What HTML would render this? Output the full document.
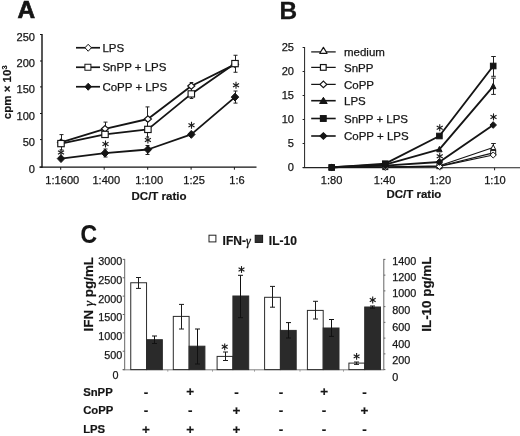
<!DOCTYPE html>
<html><head><meta charset="utf-8"><title>Figure</title>
<style>html,body{margin:0;padding:0;background:#fff;}svg{display:block;will-change:transform;}svg text{font-family:"Liberation Sans",sans-serif;}</style></head>
<body>
<svg width="520" height="436" viewBox="0 0 520 436">
<rect width="520" height="436" fill="#fff"/>
<text x="17.5" y="18.2" font-size="24.4" font-weight="bold" text-anchor="start" fill="#151515"  stroke="#151515" stroke-width="0.7">A</text>
<line x1="42.00" y1="34.00" x2="42.00" y2="167.70" stroke="#111" stroke-width="1.4" />
<line x1="39.40" y1="167.10" x2="256.50" y2="167.10" stroke="#111" stroke-width="1.3" />
<line x1="60.70" y1="167.10" x2="60.70" y2="169.70" stroke="#151515" stroke-width="1" />
<line x1="104.20" y1="167.10" x2="104.20" y2="169.70" stroke="#151515" stroke-width="1" />
<line x1="147.70" y1="167.10" x2="147.70" y2="169.70" stroke="#151515" stroke-width="1" />
<line x1="191.10" y1="167.10" x2="191.10" y2="169.70" stroke="#151515" stroke-width="1" />
<line x1="234.40" y1="167.10" x2="234.40" y2="169.70" stroke="#151515" stroke-width="1" />
<line x1="40.00" y1="34.50" x2="42.00" y2="34.50" stroke="#151515" stroke-width="1" />
<text x="35.0" y="40.5" font-size="11.1" text-anchor="end" fill="#151515"  stroke="#151515" stroke-width="0.25">250</text>
<line x1="40.00" y1="61.00" x2="42.00" y2="61.00" stroke="#151515" stroke-width="1" />
<text x="35.0" y="67.0" font-size="11.1" text-anchor="end" fill="#151515"  stroke="#151515" stroke-width="0.25">200</text>
<line x1="40.00" y1="86.90" x2="42.00" y2="86.90" stroke="#151515" stroke-width="1" />
<text x="35.0" y="92.9" font-size="11.1" text-anchor="end" fill="#151515"  stroke="#151515" stroke-width="0.25">150</text>
<line x1="40.00" y1="113.50" x2="42.00" y2="113.50" stroke="#151515" stroke-width="1" />
<text x="35.0" y="119.5" font-size="11.1" text-anchor="end" fill="#151515"  stroke="#151515" stroke-width="0.25">100</text>
<line x1="40.00" y1="139.60" x2="42.00" y2="139.60" stroke="#151515" stroke-width="1" />
<text x="35.0" y="145.6" font-size="11.1" text-anchor="end" fill="#151515"  stroke="#151515" stroke-width="0.25">50</text>
<line x1="40.00" y1="167.10" x2="42.00" y2="167.10" stroke="#151515" stroke-width="1" />
<text x="35.0" y="173.1" font-size="11.1" text-anchor="end" fill="#151515"  stroke="#151515" stroke-width="0.25">0</text>
<text x="62.3" y="184.0" font-size="11.1" text-anchor="middle" fill="#151515"  stroke="#151515" stroke-width="0.25">1:1600</text>
<text x="106.3" y="184.0" font-size="11.1" text-anchor="middle" fill="#151515"  stroke="#151515" stroke-width="0.25">1:400</text>
<text x="149.2" y="184.0" font-size="11.1" text-anchor="middle" fill="#151515"  stroke="#151515" stroke-width="0.25">1:100</text>
<text x="194.1" y="184.0" font-size="11.1" text-anchor="middle" fill="#151515"  stroke="#151515" stroke-width="0.25">1:25</text>
<text x="237.0" y="184.0" font-size="11.1" text-anchor="middle" fill="#151515"  stroke="#151515" stroke-width="0.25">1:6</text>
<text x="159" y="199.8" font-size="11.5" font-weight="bold" text-anchor="middle" fill="#151515"  stroke="#151515" stroke-width="0.2">DC/T ratio</text>
<text x="11.0" y="92.3" font-size="11.5" font-weight="bold" text-anchor="middle" fill="#151515" transform="rotate(-90 11.0 92.3)" stroke="#151515" stroke-width="0.2">cpm × 10<tspan font-size="7.5" dy="-4">3</tspan></text>
<line x1="76.00" y1="47.75" x2="100.00" y2="47.75" stroke="#151515" stroke-width="1.7" />
<polygon points="85.00,47.75 88.20,44.25 91.40,47.75 88.20,51.25" fill="#fff" stroke="#151515" stroke-width="1.0"/>
<text x="102.4" y="51.9" font-size="11.5" text-anchor="start" fill="#151515"  stroke="#151515" stroke-width="0.25">LPS</text>
<line x1="76.00" y1="67.25" x2="100.00" y2="67.25" stroke="#151515" stroke-width="1.7" />
<rect x="84.90" y="64.25" width="6.00" height="6.00" fill="#fff" stroke="#151515" stroke-width="1.0"/>
<text x="102.4" y="71.4" font-size="11.5" text-anchor="start" fill="#151515"  stroke="#151515" stroke-width="0.25">SnPP + LPS</text>
<line x1="76.00" y1="86.75" x2="100.00" y2="86.75" stroke="#151515" stroke-width="1.7" />
<polygon points="85.00,86.75 88.20,83.25 91.40,86.75 88.20,90.25" fill="#151515" stroke="#151515" stroke-width="1.0"/>
<text x="102.4" y="90.9" font-size="11.5" text-anchor="start" fill="#151515"  stroke="#151515" stroke-width="0.25">CoPP + LPS</text>
<line x1="61.50" y1="134.60" x2="61.50" y2="150.00" stroke="#222" stroke-width="1" />
<line x1="59.50" y1="134.60" x2="63.50" y2="134.60" stroke="#222" stroke-width="1" />
<line x1="59.50" y1="150.00" x2="63.50" y2="150.00" stroke="#222" stroke-width="1" />
<line x1="105.50" y1="122.10" x2="105.50" y2="129.00" stroke="#222" stroke-width="1" />
<line x1="103.50" y1="122.10" x2="107.50" y2="122.10" stroke="#222" stroke-width="1" />
<line x1="103.50" y1="129.00" x2="107.50" y2="129.00" stroke="#222" stroke-width="1" />
<line x1="147.50" y1="106.90" x2="147.50" y2="119.00" stroke="#222" stroke-width="1" />
<line x1="145.50" y1="106.90" x2="149.50" y2="106.90" stroke="#222" stroke-width="1" />
<line x1="145.50" y1="119.00" x2="149.50" y2="119.00" stroke="#222" stroke-width="1" />
<line x1="147.50" y1="121.50" x2="147.50" y2="137.00" stroke="#222" stroke-width="1" />
<line x1="145.90" y1="121.50" x2="149.10" y2="121.50" stroke="#222" stroke-width="1" />
<line x1="145.90" y1="137.00" x2="149.10" y2="137.00" stroke="#222" stroke-width="1" />
<line x1="191.50" y1="82.50" x2="191.50" y2="98.50" stroke="#222" stroke-width="1" />
<line x1="189.70" y1="82.50" x2="193.30" y2="82.50" stroke="#222" stroke-width="1" />
<line x1="189.70" y1="98.50" x2="193.30" y2="98.50" stroke="#222" stroke-width="1" />
<line x1="235.50" y1="55.25" x2="235.50" y2="72.25" stroke="#222" stroke-width="1" />
<line x1="233.50" y1="55.25" x2="237.50" y2="55.25" stroke="#222" stroke-width="1" />
<line x1="233.50" y1="72.25" x2="237.50" y2="72.25" stroke="#222" stroke-width="1" />
<line x1="105.50" y1="149.00" x2="105.50" y2="157.00" stroke="#222" stroke-width="1" />
<line x1="103.50" y1="149.00" x2="107.50" y2="149.00" stroke="#222" stroke-width="1" />
<line x1="103.50" y1="157.00" x2="107.50" y2="157.00" stroke="#222" stroke-width="1" />
<line x1="147.50" y1="145.50" x2="147.50" y2="154.50" stroke="#222" stroke-width="1" />
<line x1="145.50" y1="145.50" x2="149.50" y2="145.50" stroke="#222" stroke-width="1" />
<line x1="145.50" y1="154.50" x2="149.50" y2="154.50" stroke="#222" stroke-width="1" />
<line x1="235.50" y1="91.00" x2="235.50" y2="103.10" stroke="#222" stroke-width="1" />
<line x1="233.50" y1="91.00" x2="237.50" y2="91.00" stroke="#222" stroke-width="1" />
<line x1="233.50" y1="103.10" x2="237.50" y2="103.10" stroke="#222" stroke-width="1" />
<polyline points="61.0,142.3 105.0,128.8 147.9,119.0 191.3,86.0 235.0,64.3" fill="none" stroke="#151515" stroke-width="1.85" stroke-linejoin="round"/>
<polyline points="61.0,143.6 105.0,134.4 147.9,129.4 191.3,93.9 235.0,63.6" fill="none" stroke="#151515" stroke-width="1.85" stroke-linejoin="round"/>
<polyline points="61.0,158.6 105.0,153.1 147.9,149.5 191.3,134.4 235.0,97.1" fill="none" stroke="#151515" stroke-width="1.85" stroke-linejoin="round"/>
<polygon points="57.41,142.30 61.00,139.02 64.58,142.30 61.00,145.59" fill="#fff" stroke="#151515" stroke-width="1.1"/>
<polygon points="101.42,128.75 105.00,125.47 108.58,128.75 105.00,132.03" fill="#fff" stroke="#151515" stroke-width="1.1"/>
<polygon points="144.31,119.00 147.90,115.72 151.49,119.00 147.90,122.28" fill="#fff" stroke="#151515" stroke-width="1.1"/>
<polygon points="187.72,86.00 191.30,82.72 194.89,86.00 191.30,89.28" fill="#fff" stroke="#151515" stroke-width="1.1"/>
<polygon points="231.41,64.30 235.00,61.02 238.59,64.30 235.00,67.58" fill="#fff" stroke="#151515" stroke-width="1.1"/>
<rect x="57.77" y="140.47" width="6.45" height="6.25" fill="#fff" stroke="#151515" stroke-width="1.15"/>
<rect x="101.78" y="131.28" width="6.45" height="6.25" fill="#fff" stroke="#151515" stroke-width="1.15"/>
<rect x="144.68" y="126.28" width="6.45" height="6.25" fill="#fff" stroke="#151515" stroke-width="1.15"/>
<rect x="188.08" y="90.78" width="6.45" height="6.25" fill="#fff" stroke="#151515" stroke-width="1.15"/>
<rect x="231.78" y="60.48" width="6.45" height="6.25" fill="#fff" stroke="#151515" stroke-width="1.15"/>
<polygon points="57.25,158.60 61.00,154.65 64.75,158.60 61.00,162.55" fill="#151515" stroke="#151515" stroke-width="1.0"/>
<polygon points="101.25,153.10 105.00,149.15 108.75,153.10 105.00,157.05" fill="#151515" stroke="#151515" stroke-width="1.0"/>
<polygon points="144.15,149.50 147.90,145.55 151.65,149.50 147.90,153.45" fill="#151515" stroke="#151515" stroke-width="1.0"/>
<polygon points="187.55,134.40 191.30,130.45 195.05,134.40 191.30,138.35" fill="#151515" stroke="#151515" stroke-width="1.0"/>
<polygon points="231.25,97.10 235.00,93.15 238.75,97.10 235.00,101.05" fill="#151515" stroke="#151515" stroke-width="1.0"/>
<line x1="61.00" y1="149.00" x2="61.00" y2="156.00" stroke="#1a1a1a" stroke-width="1.1" />
<line x1="57.97" y1="150.75" x2="64.03" y2="154.25" stroke="#1a1a1a" stroke-width="1.1" />
<line x1="64.03" y1="150.75" x2="57.97" y2="154.25" stroke="#1a1a1a" stroke-width="1.1" />
<line x1="105.50" y1="140.50" x2="105.50" y2="147.50" stroke="#1a1a1a" stroke-width="1.1" />
<line x1="102.47" y1="142.25" x2="108.53" y2="145.75" stroke="#1a1a1a" stroke-width="1.1" />
<line x1="108.53" y1="142.25" x2="102.47" y2="145.75" stroke="#1a1a1a" stroke-width="1.1" />
<line x1="147.90" y1="136.50" x2="147.90" y2="143.50" stroke="#1a1a1a" stroke-width="1.1" />
<line x1="144.87" y1="138.25" x2="150.93" y2="141.75" stroke="#1a1a1a" stroke-width="1.1" />
<line x1="150.93" y1="138.25" x2="144.87" y2="141.75" stroke="#1a1a1a" stroke-width="1.1" />
<line x1="191.50" y1="121.75" x2="191.50" y2="128.75" stroke="#1a1a1a" stroke-width="1.1" />
<line x1="188.47" y1="123.50" x2="194.53" y2="127.00" stroke="#1a1a1a" stroke-width="1.1" />
<line x1="194.53" y1="123.50" x2="188.47" y2="127.00" stroke="#1a1a1a" stroke-width="1.1" />
<line x1="236.00" y1="81.75" x2="236.00" y2="88.75" stroke="#1a1a1a" stroke-width="1.1" />
<line x1="232.97" y1="83.50" x2="239.03" y2="87.00" stroke="#1a1a1a" stroke-width="1.1" />
<line x1="239.03" y1="83.50" x2="232.97" y2="87.00" stroke="#1a1a1a" stroke-width="1.1" />
<text x="279.6" y="19" font-size="24.4" font-weight="bold" text-anchor="start" fill="#151515"  stroke="#151515" stroke-width="0.3">B</text>
<line x1="304.60" y1="47.00" x2="304.60" y2="168.00" stroke="#222" stroke-width="1" />
<line x1="302.80" y1="167.60" x2="520.00" y2="167.70" stroke="#222" stroke-width="1.1" />
<line x1="332.00" y1="167.70" x2="332.00" y2="170.30" stroke="#222" stroke-width="1" />
<line x1="385.50" y1="167.70" x2="385.50" y2="170.30" stroke="#222" stroke-width="1" />
<line x1="440.00" y1="167.70" x2="440.00" y2="170.30" stroke="#222" stroke-width="1" />
<line x1="494.60" y1="167.70" x2="494.60" y2="170.30" stroke="#222" stroke-width="1" />
<text x="294.0" y="171.2" font-size="11.1" text-anchor="end" fill="#151515"  stroke="#151515" stroke-width="0.25">0</text>
<line x1="302.60" y1="167.50" x2="304.60" y2="167.50" stroke="#222" stroke-width="1" />
<text x="294.0" y="147.2" font-size="11.1" text-anchor="end" fill="#151515"  stroke="#151515" stroke-width="0.25">5</text>
<line x1="302.60" y1="143.50" x2="304.60" y2="143.50" stroke="#222" stroke-width="1" />
<text x="294.0" y="123.2" font-size="11.1" text-anchor="end" fill="#151515"  stroke="#151515" stroke-width="0.25">10</text>
<line x1="302.60" y1="119.50" x2="304.60" y2="119.50" stroke="#222" stroke-width="1" />
<text x="294.0" y="99.2" font-size="11.1" text-anchor="end" fill="#151515"  stroke="#151515" stroke-width="0.25">15</text>
<line x1="302.60" y1="95.50" x2="304.60" y2="95.50" stroke="#222" stroke-width="1" />
<text x="294.0" y="75.2" font-size="11.1" text-anchor="end" fill="#151515"  stroke="#151515" stroke-width="0.25">20</text>
<line x1="302.60" y1="71.50" x2="304.60" y2="71.50" stroke="#222" stroke-width="1" />
<text x="294.0" y="51.2" font-size="11.1" text-anchor="end" fill="#151515"  stroke="#151515" stroke-width="0.25">25</text>
<line x1="302.60" y1="47.50" x2="304.60" y2="47.50" stroke="#222" stroke-width="1" />
<text x="331.6" y="184.1" font-size="11.1" text-anchor="middle" fill="#151515"  stroke="#151515" stroke-width="0.25">1:80</text>
<text x="384.6" y="184.1" font-size="11.1" text-anchor="middle" fill="#151515"  stroke="#151515" stroke-width="0.25">1:40</text>
<text x="440.4" y="184.1" font-size="11.1" text-anchor="middle" fill="#151515"  stroke="#151515" stroke-width="0.25">1:20</text>
<text x="495.0" y="184.1" font-size="11.1" text-anchor="middle" fill="#151515"  stroke="#151515" stroke-width="0.25">1:10</text>
<text x="413.9" y="197.9" font-size="11.5" font-weight="bold" text-anchor="middle" fill="#151515"  stroke="#151515" stroke-width="0.2">DC/T ratio</text>
<line x1="311.20" y1="51.90" x2="335.70" y2="51.90" stroke="#151515" stroke-width="1.25" />
<polygon points="319.74,53.28 323.40,47.32 327.06,53.28" fill="#fff" stroke="#151515" stroke-width="1.2" stroke-linejoin="round"/>
<text x="344" y="56.1" font-size="11.5" text-anchor="start" fill="#151515"  stroke="#151515" stroke-width="0.25">medium</text>
<line x1="311.20" y1="67.40" x2="335.70" y2="67.40" stroke="#151515" stroke-width="1.25" />
<rect x="320.45" y="64.55" width="5.70" height="5.70" fill="#fff" stroke="#151515" stroke-width="1.2"/>
<text x="344" y="71.60000000000001" font-size="11.5" text-anchor="start" fill="#151515"  stroke="#151515" stroke-width="0.25">SnPP</text>
<line x1="311.20" y1="84.40" x2="335.70" y2="84.40" stroke="#151515" stroke-width="1.25" />
<polygon points="320.00,84.40 323.40,81.10 326.80,84.40 323.40,87.70" fill="#fff" stroke="#151515" stroke-width="1.15"/>
<text x="344" y="88.60000000000001" font-size="11.5" text-anchor="start" fill="#151515"  stroke="#151515" stroke-width="0.25">CoPP</text>
<line x1="311.20" y1="100.70" x2="335.70" y2="100.70" stroke="#151515" stroke-width="1.6" />
<polygon points="319.60,103.50 323.40,97.30 327.20,103.50" fill="#151515" stroke="#151515" stroke-width="1.0" stroke-linejoin="round"/>
<text x="344" y="104.9" font-size="11.5" text-anchor="start" fill="#151515"  stroke="#151515" stroke-width="0.25">LPS</text>
<line x1="311.20" y1="118.50" x2="335.70" y2="118.50" stroke="#151515" stroke-width="1.6" />
<rect x="320.45" y="115.65" width="5.70" height="5.70" fill="#151515" stroke="#151515" stroke-width="1.2"/>
<text x="344" y="122.7" font-size="11.5" text-anchor="start" fill="#151515"  stroke="#151515" stroke-width="0.25">SnPP + LPS</text>
<line x1="311.20" y1="136.00" x2="335.70" y2="136.00" stroke="#151515" stroke-width="1.6" />
<polygon points="320.00,136.00 323.40,132.70 326.80,136.00 323.40,139.30" fill="#151515" stroke="#151515" stroke-width="1.15"/>
<text x="344" y="140.2" font-size="11.5" text-anchor="start" fill="#151515"  stroke="#151515" stroke-width="0.25">CoPP + LPS</text>
<line x1="493.50" y1="56.50" x2="493.50" y2="76.30" stroke="#222" stroke-width="1" />
<line x1="491.20" y1="56.50" x2="495.80" y2="56.50" stroke="#222" stroke-width="1" />
<line x1="491.20" y1="76.30" x2="495.80" y2="76.30" stroke="#222" stroke-width="1" />
<line x1="493.50" y1="78.10" x2="493.50" y2="94.40" stroke="#222" stroke-width="1" />
<line x1="491.20" y1="78.10" x2="495.80" y2="78.10" stroke="#222" stroke-width="1" />
<line x1="491.20" y1="94.40" x2="495.80" y2="94.40" stroke="#222" stroke-width="1" />
<line x1="493.50" y1="143.50" x2="493.50" y2="150.00" stroke="#222" stroke-width="1" />
<line x1="491.20" y1="143.50" x2="495.80" y2="143.50" stroke="#222" stroke-width="1" />
<line x1="491.20" y1="150.00" x2="495.80" y2="150.00" stroke="#222" stroke-width="1" />
<polyline points="331.7,167.3 385.3,167.0 439.4,165.8 493.2,147.5" fill="none" stroke="#151515" stroke-width="1.15" stroke-linejoin="round"/>
<polyline points="331.7,167.4 385.3,167.1 439.4,166.2 493.2,152.9" fill="none" stroke="#151515" stroke-width="1.15" stroke-linejoin="round"/>
<polyline points="331.7,167.4 385.3,167.2 439.4,166.4 493.2,155.0" fill="none" stroke="#151515" stroke-width="1.15" stroke-linejoin="round"/>
<polyline points="331.7,167.3 385.3,164.6 439.4,149.4 493.2,86.3" fill="none" stroke="#151515" stroke-width="1.9" stroke-linejoin="round"/>
<polyline points="331.7,167.5 385.3,163.7 439.4,136.0 493.2,66.0" fill="none" stroke="#151515" stroke-width="1.9" stroke-linejoin="round"/>
<polyline points="331.7,167.4 385.3,165.6 439.4,162.0 493.2,125.0" fill="none" stroke="#151515" stroke-width="1.9" stroke-linejoin="round"/>
<polygon points="329.20,169.40 331.70,164.60 334.20,169.40" fill="#fff" stroke="#151515" stroke-width="1.0" stroke-linejoin="round"/>
<polygon points="382.80,169.10 385.30,164.30 387.80,169.10" fill="#fff" stroke="#151515" stroke-width="1.0" stroke-linejoin="round"/>
<polygon points="436.90,167.90 439.40,163.10 441.90,167.90" fill="#fff" stroke="#151515" stroke-width="1.0" stroke-linejoin="round"/>
<polygon points="490.70,149.60 493.20,144.80 495.70,149.60" fill="#fff" stroke="#151515" stroke-width="1.0" stroke-linejoin="round"/>
<rect x="329.20" y="164.90" width="5.00" height="5.00" fill="#fff" stroke="#151515" stroke-width="1.0"/>
<rect x="382.80" y="164.60" width="5.00" height="5.00" fill="#fff" stroke="#151515" stroke-width="1.0"/>
<rect x="436.90" y="163.70" width="5.00" height="5.00" fill="#fff" stroke="#151515" stroke-width="1.0"/>
<rect x="490.70" y="150.40" width="5.00" height="5.00" fill="#fff" stroke="#151515" stroke-width="1.0"/>
<polygon points="328.65,167.40 331.70,164.35 334.75,167.40 331.70,170.45" fill="#fff" stroke="#151515" stroke-width="1.0"/>
<polygon points="382.25,167.20 385.30,164.15 388.35,167.20 385.30,170.25" fill="#fff" stroke="#151515" stroke-width="1.0"/>
<polygon points="436.35,166.40 439.40,163.35 442.45,166.40 439.40,169.45" fill="#fff" stroke="#151515" stroke-width="1.0"/>
<polygon points="490.15,155.00 493.20,151.95 496.25,155.00 493.20,158.05" fill="#fff" stroke="#151515" stroke-width="1.0"/>
<polygon points="329.00,169.70 331.70,164.30 334.40,169.70" fill="#151515" stroke="#151515" stroke-width="1.0" stroke-linejoin="round"/>
<polygon points="382.60,167.00 385.30,161.60 388.00,167.00" fill="#151515" stroke="#151515" stroke-width="1.0" stroke-linejoin="round"/>
<polygon points="436.70,151.80 439.40,146.40 442.10,151.80" fill="#151515" stroke="#151515" stroke-width="1.0" stroke-linejoin="round"/>
<polygon points="490.50,88.70 493.20,83.30 495.90,88.70" fill="#151515" stroke="#151515" stroke-width="1.0" stroke-linejoin="round"/>
<rect x="328.90" y="164.70" width="5.60" height="5.60" fill="#151515" stroke="#151515" stroke-width="1.0"/>
<rect x="382.50" y="160.90" width="5.60" height="5.60" fill="#151515" stroke="#151515" stroke-width="1.0"/>
<rect x="436.60" y="133.20" width="5.60" height="5.60" fill="#151515" stroke="#151515" stroke-width="1.0"/>
<rect x="490.40" y="63.20" width="5.60" height="5.60" fill="#151515" stroke="#151515" stroke-width="1.0"/>
<polygon points="328.45,167.40 331.70,164.05 334.95,167.40 331.70,170.75" fill="#151515" stroke="#151515" stroke-width="1.0"/>
<polygon points="382.05,165.60 385.30,162.25 388.55,165.60 385.30,168.95" fill="#151515" stroke="#151515" stroke-width="1.0"/>
<polygon points="436.15,162.00 439.40,158.65 442.65,162.00 439.40,165.35" fill="#151515" stroke="#151515" stroke-width="1.0"/>
<polygon points="489.95,125.00 493.20,121.65 496.45,125.00 493.20,128.35" fill="#151515" stroke="#151515" stroke-width="1.0"/>
<line x1="439.75" y1="124.25" x2="439.75" y2="131.25" stroke="#1a1a1a" stroke-width="1.1" />
<line x1="436.72" y1="126.00" x2="442.78" y2="129.50" stroke="#1a1a1a" stroke-width="1.1" />
<line x1="442.78" y1="126.00" x2="436.72" y2="129.50" stroke="#1a1a1a" stroke-width="1.1" />
<line x1="439.75" y1="152.75" x2="439.75" y2="159.75" stroke="#1a1a1a" stroke-width="1.1" />
<line x1="436.72" y1="154.50" x2="442.78" y2="158.00" stroke="#1a1a1a" stroke-width="1.1" />
<line x1="442.78" y1="154.50" x2="436.72" y2="158.00" stroke="#1a1a1a" stroke-width="1.1" />
<line x1="493.50" y1="113.40" x2="493.50" y2="120.40" stroke="#1a1a1a" stroke-width="1.1" />
<line x1="490.47" y1="115.15" x2="496.53" y2="118.65" stroke="#1a1a1a" stroke-width="1.1" />
<line x1="496.53" y1="115.15" x2="490.47" y2="118.65" stroke="#1a1a1a" stroke-width="1.1" />
<text x="0" y="0" font-size="24.4" font-weight="bold" text-anchor="start" fill="#151515" transform="translate(80.5,242.9) scale(0.94,1.05)" stroke="#151515" stroke-width="0.2">C</text>
<line x1="124.70" y1="258.90" x2="124.70" y2="370.10" stroke="#666" stroke-width="1" />
<line x1="122.70" y1="369.80" x2="383.80" y2="369.80" stroke="#808080" stroke-width="1" />
<line x1="383.80" y1="258.90" x2="383.80" y2="370.10" stroke="#666" stroke-width="1" />
<line x1="122.70" y1="259.40" x2="124.70" y2="259.40" stroke="#666" stroke-width="1" />
<text x="122.3" y="264.75" font-size="10.8" text-anchor="end" fill="#151515"  stroke="#151515" stroke-width="0.25">3000</text>
<line x1="122.70" y1="277.77" x2="124.70" y2="277.77" stroke="#666" stroke-width="1" />
<text x="122.3" y="283.65" font-size="10.8" text-anchor="end" fill="#151515"  stroke="#151515" stroke-width="0.25">2500</text>
<line x1="122.70" y1="296.13" x2="124.70" y2="296.13" stroke="#666" stroke-width="1" />
<text x="122.3" y="302.55" font-size="10.8" text-anchor="end" fill="#151515"  stroke="#151515" stroke-width="0.25">2000</text>
<line x1="122.70" y1="314.50" x2="124.70" y2="314.50" stroke="#666" stroke-width="1" />
<text x="122.3" y="321.45" font-size="10.8" text-anchor="end" fill="#151515"  stroke="#151515" stroke-width="0.25">1500</text>
<line x1="122.70" y1="332.87" x2="124.70" y2="332.87" stroke="#666" stroke-width="1" />
<text x="122.3" y="340.35" font-size="10.8" text-anchor="end" fill="#151515"  stroke="#151515" stroke-width="0.25">1000</text>
<line x1="122.70" y1="351.23" x2="124.70" y2="351.23" stroke="#666" stroke-width="1" />
<text x="122.3" y="359.25" font-size="10.8" text-anchor="end" fill="#151515"  stroke="#151515" stroke-width="0.25">500</text>
<line x1="122.70" y1="369.60" x2="124.70" y2="369.60" stroke="#666" stroke-width="1" />
<text x="118.4" y="378.65" font-size="10.8" text-anchor="end" fill="#151515"  stroke="#151515" stroke-width="0.25">0</text>
<line x1="383.80" y1="259.40" x2="385.40" y2="259.40" stroke="#666" stroke-width="1" />
<text x="392.2" y="264.95" font-size="10.8" text-anchor="start" fill="#151515"  stroke="#151515" stroke-width="0.25">1400</text>
<line x1="383.80" y1="275.14" x2="385.40" y2="275.14" stroke="#666" stroke-width="1" />
<text x="392.2" y="280.75" font-size="10.8" text-anchor="start" fill="#151515"  stroke="#151515" stroke-width="0.25">1200</text>
<line x1="383.80" y1="290.89" x2="385.40" y2="290.89" stroke="#666" stroke-width="1" />
<text x="392.2" y="296.95" font-size="10.8" text-anchor="start" fill="#151515"  stroke="#151515" stroke-width="0.25">1000</text>
<line x1="383.80" y1="306.63" x2="385.40" y2="306.63" stroke="#666" stroke-width="1" />
<text x="392.2" y="314.45" font-size="10.8" text-anchor="start" fill="#151515"  stroke="#151515" stroke-width="0.25">800</text>
<line x1="383.80" y1="322.37" x2="385.40" y2="322.37" stroke="#666" stroke-width="1" />
<text x="392.2" y="330.75" font-size="10.8" text-anchor="start" fill="#151515"  stroke="#151515" stroke-width="0.25">600</text>
<line x1="383.80" y1="338.11" x2="385.40" y2="338.11" stroke="#666" stroke-width="1" />
<text x="392.2" y="347.55" font-size="10.8" text-anchor="start" fill="#151515"  stroke="#151515" stroke-width="0.25">400</text>
<line x1="383.80" y1="353.86" x2="385.40" y2="353.86" stroke="#666" stroke-width="1" />
<text x="392.2" y="363.65" font-size="10.8" text-anchor="start" fill="#151515"  stroke="#151515" stroke-width="0.25">200</text>
<line x1="383.80" y1="369.60" x2="385.40" y2="369.60" stroke="#666" stroke-width="1" />
<text x="392.2" y="380.95" font-size="10.8" text-anchor="start" fill="#151515"  stroke="#151515" stroke-width="0.25">0</text>
<text x="92.8" y="257.0" font-size="13.4" font-weight="bold" text-anchor="end" fill="#151515" transform="rotate(-90 92.8 257.0)" stroke="#151515" stroke-width="0.2">IFN <tspan font-family="Liberation Serif, serif" font-weight="normal" font-style="italic" stroke-width="0.35">γ</tspan> pg/mL</text>
<text x="430.6" y="256.6" font-size="13.4" font-weight="bold" text-anchor="end" fill="#151515" transform="rotate(-90 430.6 256.6)" stroke="#151515" stroke-width="0.2">IL-10 pg/mL</text>
<rect x="209.0" y="235.2" width="6.9" height="6.7" fill="#fff" stroke="#222" stroke-width="1"/>
<text x="222.6" y="245.1" font-size="12" font-weight="bold" text-anchor="start" fill="#151515"  stroke="#151515" stroke-width="0.2">IFN-<tspan font-family="Liberation Serif, serif" font-weight="normal" font-style="italic" stroke-width="0.35">γ</tspan></text>
<rect x="255.2" y="235.3" width="7.4" height="7.1" fill="#303030" stroke="#151515" stroke-width="1"/>
<text x="268.8" y="245.1" font-size="12" font-weight="bold" text-anchor="start" fill="#151515"  stroke="#151515" stroke-width="0.2">IL-10</text>
<rect x="130.75" y="282.75" width="15.8" height="86.85" fill="#fff" stroke="#2b2b2b" stroke-width="1"/>
<rect x="146.55" y="339.70" width="15.8" height="29.90" fill="#2a2a2a" stroke="#2b2b2b" stroke-width="1"/>
<line x1="138.50" y1="277.50" x2="138.50" y2="288.40" stroke="#1c1c1c" stroke-width="1" />
<line x1="136.00" y1="277.50" x2="141.00" y2="277.50" stroke="#1c1c1c" stroke-width="1" />
<line x1="136.00" y1="288.40" x2="141.00" y2="288.40" stroke="#1c1c1c" stroke-width="1" />
<line x1="154.50" y1="336.00" x2="154.50" y2="343.50" stroke="#111" stroke-width="1" />
<line x1="152.00" y1="336.00" x2="157.00" y2="336.00" stroke="#111" stroke-width="1" />
<line x1="152.00" y1="343.50" x2="157.00" y2="343.50" stroke="#111" stroke-width="1" />
<rect x="173.30" y="316.40" width="15.8" height="53.20" fill="#fff" stroke="#2b2b2b" stroke-width="1"/>
<rect x="189.10" y="346.20" width="15.8" height="23.40" fill="#2a2a2a" stroke="#2b2b2b" stroke-width="1"/>
<line x1="181.50" y1="304.40" x2="181.50" y2="329.00" stroke="#1c1c1c" stroke-width="1" />
<line x1="179.00" y1="304.40" x2="184.00" y2="304.40" stroke="#1c1c1c" stroke-width="1" />
<line x1="179.00" y1="329.00" x2="184.00" y2="329.00" stroke="#1c1c1c" stroke-width="1" />
<line x1="197.50" y1="329.00" x2="197.50" y2="364.00" stroke="#111" stroke-width="1" />
<line x1="195.00" y1="329.00" x2="200.00" y2="329.00" stroke="#111" stroke-width="1" />
<line x1="195.00" y1="364.00" x2="200.00" y2="364.00" stroke="#111" stroke-width="1" />
<rect x="217.10" y="356.40" width="15.8" height="13.20" fill="#fff" stroke="#2b2b2b" stroke-width="1"/>
<rect x="232.90" y="296.00" width="15.8" height="73.60" fill="#2a2a2a" stroke="#2b2b2b" stroke-width="1"/>
<line x1="225.50" y1="352.00" x2="225.50" y2="360.50" stroke="#1c1c1c" stroke-width="1" />
<line x1="223.00" y1="352.00" x2="228.00" y2="352.00" stroke="#1c1c1c" stroke-width="1" />
<line x1="223.00" y1="360.50" x2="228.00" y2="360.50" stroke="#1c1c1c" stroke-width="1" />
<line x1="240.50" y1="275.30" x2="240.50" y2="317.70" stroke="#111" stroke-width="1" />
<line x1="238.00" y1="275.30" x2="243.00" y2="275.30" stroke="#111" stroke-width="1" />
<line x1="238.00" y1="317.70" x2="243.00" y2="317.70" stroke="#111" stroke-width="1" />
<rect x="264.60" y="297.30" width="15.8" height="72.30" fill="#fff" stroke="#2b2b2b" stroke-width="1"/>
<rect x="280.40" y="330.40" width="15.8" height="39.20" fill="#2a2a2a" stroke="#2b2b2b" stroke-width="1"/>
<line x1="272.50" y1="286.40" x2="272.50" y2="307.20" stroke="#1c1c1c" stroke-width="1" />
<line x1="270.00" y1="286.40" x2="275.00" y2="286.40" stroke="#1c1c1c" stroke-width="1" />
<line x1="270.00" y1="307.20" x2="275.00" y2="307.20" stroke="#1c1c1c" stroke-width="1" />
<line x1="288.50" y1="322.60" x2="288.50" y2="338.00" stroke="#111" stroke-width="1" />
<line x1="286.00" y1="322.60" x2="291.00" y2="322.60" stroke="#111" stroke-width="1" />
<line x1="286.00" y1="338.00" x2="291.00" y2="338.00" stroke="#111" stroke-width="1" />
<rect x="307.40" y="310.40" width="15.8" height="59.20" fill="#fff" stroke="#2b2b2b" stroke-width="1"/>
<rect x="323.20" y="328.00" width="15.8" height="41.60" fill="#2a2a2a" stroke="#2b2b2b" stroke-width="1"/>
<line x1="315.50" y1="301.30" x2="315.50" y2="319.00" stroke="#1c1c1c" stroke-width="1" />
<line x1="313.00" y1="301.30" x2="318.00" y2="301.30" stroke="#1c1c1c" stroke-width="1" />
<line x1="313.00" y1="319.00" x2="318.00" y2="319.00" stroke="#1c1c1c" stroke-width="1" />
<line x1="331.50" y1="319.50" x2="331.50" y2="336.40" stroke="#111" stroke-width="1" />
<line x1="329.00" y1="319.50" x2="334.00" y2="319.50" stroke="#111" stroke-width="1" />
<line x1="329.00" y1="336.40" x2="334.00" y2="336.40" stroke="#111" stroke-width="1" />
<rect x="348.90" y="363.10" width="15.8" height="6.50" fill="#fff" stroke="#2b2b2b" stroke-width="1"/>
<rect x="364.70" y="307.00" width="15.8" height="62.60" fill="#2a2a2a" stroke="#2b2b2b" stroke-width="1"/>
<line x1="356.50" y1="362.00" x2="356.50" y2="364.40" stroke="#1c1c1c" stroke-width="1" />
<line x1="354.00" y1="362.00" x2="359.00" y2="362.00" stroke="#1c1c1c" stroke-width="1" />
<line x1="354.00" y1="364.40" x2="359.00" y2="364.40" stroke="#1c1c1c" stroke-width="1" />
<line x1="372.50" y1="306.00" x2="372.50" y2="308.20" stroke="#111" stroke-width="1" />
<line x1="370.00" y1="306.00" x2="375.00" y2="306.00" stroke="#111" stroke-width="1" />
<line x1="370.00" y1="308.20" x2="375.00" y2="308.20" stroke="#111" stroke-width="1" />
<line x1="224.70" y1="343.40" x2="224.70" y2="350.20" stroke="#1a1a1a" stroke-width="1.1" />
<line x1="221.76" y1="345.10" x2="227.64" y2="348.50" stroke="#1a1a1a" stroke-width="1.1" />
<line x1="227.64" y1="345.10" x2="221.76" y2="348.50" stroke="#1a1a1a" stroke-width="1.1" />
<line x1="241.50" y1="266.10" x2="241.50" y2="272.90" stroke="#1a1a1a" stroke-width="1.1" />
<line x1="238.56" y1="267.80" x2="244.44" y2="271.20" stroke="#1a1a1a" stroke-width="1.1" />
<line x1="244.44" y1="267.80" x2="238.56" y2="271.20" stroke="#1a1a1a" stroke-width="1.1" />
<line x1="356.60" y1="353.00" x2="356.60" y2="359.80" stroke="#1a1a1a" stroke-width="1.1" />
<line x1="353.66" y1="354.70" x2="359.54" y2="358.10" stroke="#1a1a1a" stroke-width="1.1" />
<line x1="359.54" y1="354.70" x2="353.66" y2="358.10" stroke="#1a1a1a" stroke-width="1.1" />
<line x1="372.70" y1="296.60" x2="372.70" y2="303.40" stroke="#1a1a1a" stroke-width="1.1" />
<line x1="369.76" y1="298.30" x2="375.64" y2="301.70" stroke="#1a1a1a" stroke-width="1.1" />
<line x1="375.64" y1="298.30" x2="369.76" y2="301.70" stroke="#1a1a1a" stroke-width="1.1" />
<line x1="167.80" y1="369.60" x2="167.80" y2="371.60" stroke="#999" stroke-width="1" />
<line x1="212.50" y1="369.60" x2="212.50" y2="371.60" stroke="#999" stroke-width="1" />
<line x1="254.50" y1="369.60" x2="254.50" y2="371.60" stroke="#999" stroke-width="1" />
<line x1="300.00" y1="369.60" x2="300.00" y2="371.60" stroke="#999" stroke-width="1" />
<line x1="343.50" y1="369.60" x2="343.50" y2="371.60" stroke="#999" stroke-width="1" />
<text x="83.2" y="395.7" font-size="11.3" font-weight="bold" text-anchor="start" fill="#151515"  stroke="#151515" stroke-width="0.2">SnPP</text>
<text x="145.9" y="396.59999999999997" font-size="13.5" font-weight="bold" text-anchor="middle" fill="#151515"  stroke="#151515" stroke-width="0.2">-</text>
<text x="190.3" y="396.2" font-size="13.5" font-weight="bold" text-anchor="middle" fill="#151515"  stroke="#151515" stroke-width="0.2">+</text>
<text x="236.5" y="396.59999999999997" font-size="13.5" font-weight="bold" text-anchor="middle" fill="#151515"  stroke="#151515" stroke-width="0.2">-</text>
<text x="281.1" y="396.59999999999997" font-size="13.5" font-weight="bold" text-anchor="middle" fill="#151515"  stroke="#151515" stroke-width="0.2">-</text>
<text x="324.1" y="396.2" font-size="13.5" font-weight="bold" text-anchor="middle" fill="#151515"  stroke="#151515" stroke-width="0.2">+</text>
<text x="364.5" y="396.59999999999997" font-size="13.5" font-weight="bold" text-anchor="middle" fill="#151515"  stroke="#151515" stroke-width="0.2">-</text>
<text x="83.2" y="414" font-size="11.3" font-weight="bold" text-anchor="start" fill="#151515"  stroke="#151515" stroke-width="0.2">CoPP</text>
<text x="145.9" y="414.9" font-size="13.5" font-weight="bold" text-anchor="middle" fill="#151515"  stroke="#151515" stroke-width="0.2">-</text>
<text x="190.3" y="414.9" font-size="13.5" font-weight="bold" text-anchor="middle" fill="#151515"  stroke="#151515" stroke-width="0.2">-</text>
<text x="236.5" y="414.5" font-size="13.5" font-weight="bold" text-anchor="middle" fill="#151515"  stroke="#151515" stroke-width="0.2">+</text>
<text x="281.1" y="414.9" font-size="13.5" font-weight="bold" text-anchor="middle" fill="#151515"  stroke="#151515" stroke-width="0.2">-</text>
<text x="324.1" y="414.9" font-size="13.5" font-weight="bold" text-anchor="middle" fill="#151515"  stroke="#151515" stroke-width="0.2">-</text>
<text x="364.5" y="414.5" font-size="13.5" font-weight="bold" text-anchor="middle" fill="#151515"  stroke="#151515" stroke-width="0.2">+</text>
<text x="83.2" y="433.3" font-size="11.3" font-weight="bold" text-anchor="start" fill="#151515"  stroke="#151515" stroke-width="0.2">LPS</text>
<text x="145.9" y="433.8" font-size="13.5" font-weight="bold" text-anchor="middle" fill="#151515"  stroke="#151515" stroke-width="0.2">+</text>
<text x="190.3" y="433.8" font-size="13.5" font-weight="bold" text-anchor="middle" fill="#151515"  stroke="#151515" stroke-width="0.2">+</text>
<text x="236.5" y="433.8" font-size="13.5" font-weight="bold" text-anchor="middle" fill="#151515"  stroke="#151515" stroke-width="0.2">+</text>
<text x="281.1" y="434.2" font-size="13.5" font-weight="bold" text-anchor="middle" fill="#151515"  stroke="#151515" stroke-width="0.2">-</text>
<text x="324.1" y="434.2" font-size="13.5" font-weight="bold" text-anchor="middle" fill="#151515"  stroke="#151515" stroke-width="0.2">-</text>
<text x="364.5" y="434.2" font-size="13.5" font-weight="bold" text-anchor="middle" fill="#151515"  stroke="#151515" stroke-width="0.2">-</text>
</svg>
</body></html>
